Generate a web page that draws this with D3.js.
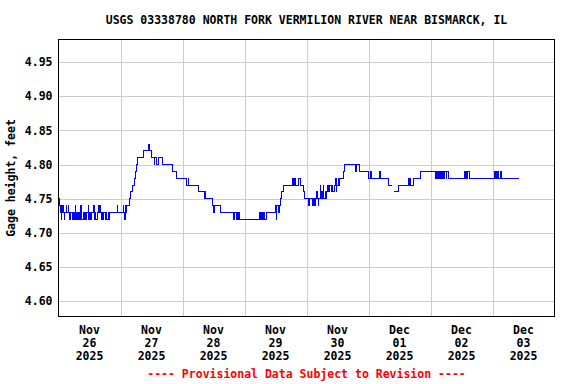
<!DOCTYPE html>
<html>
<head>
<meta charset="utf-8">
<script src="https://cdn.jsdelivr.net/npm/d3@7"></script>
<style>
  body { margin: 0; background: #fff; }
  text { font-family: "DejaVu Sans Mono", monospace; font-weight: bold; font-size: 11.5px; fill: #000; }
</style>
</head>
<body>
<svg id="chart" width="576" height="384"></svg>
<script>
const chartTitle = "USGS 03338780 NORTH FORK VERMILION RIVER NEAR BISMARCK, IL";
const yLabel = "Gage height, feet";
const footNote = "---- Provisional Data Subject to Revision ----";

// day labels under the axis (one per day, centred at noon)
const dayMonths = ["Nov", "Nov", "Nov", "Nov", "Nov", "Dec", "Dec", "Dec"];
const dayNumbers = ["26", "27", "28", "29", "30", "01", "02", "03"];
const dayYears = ["2025", "2025", "2025", "2025", "2025", "2025", "2025", "2025"];
const yTicks = [4.60, 4.65, 4.70, 4.75, 4.80, 4.85, 4.90, 4.95];

// [hours since 2025-11-26 00:00, gage height ft] at each change of value; null = no data
const readings = [
    [0, 4.75], [0.25, 4.74], [0.75, 4.73], [1, 4.72], [1.25, 4.74], [1.5, 4.73], [1.75, 4.74], [2, 4.73],
    [2.25, 4.72], [2.5, 4.73], [3, 4.74], [3.25, 4.73], [3.75, 4.74], [4, 4.73], [4.25, 4.72], [4.5, 4.73],
    [5.5, 4.72], [5.75, 4.73], [6.25, 4.72], [6.5, 4.74], [6.75, 4.73], [7, 4.72], [7.25, 4.73], [7.75, 4.72],
    [8, 4.73], [8.25, 4.72], [8.5, 4.74], [8.75, 4.73], [9, 4.72], [9.5, 4.73], [9.75, 4.72], [10.25, 4.73],
    [10.5, 4.72], [11, 4.73], [11.5, 4.74], [11.75, 4.72], [12, 4.73], [12.25, 4.72], [12.75, 4.73], [13.5, 4.74],
    [13.75, 4.73], [14, 4.72], [14.25, 4.73], [14.5, 4.72], [15, 4.73], [15.5, 4.74], [15.75, 4.73], [16, 4.74],
    [16.25, 4.73], [16.5, 4.72], [16.75, 4.73], [17, 4.72], [17.5, 4.73], [18.25, 4.72], [18.5, 4.73], [18.75, 4.72],
    [19.25, 4.73], [19.5, 4.72], [19.75, 4.73], [22.75, 4.74], [23, 4.73],
    // Nov 27
    [25, 4.74], [25.25, 4.73], [25.5, 4.72], [25.75, 4.73], [26, 4.74], [26.25, 4.73], [26.5, 4.74], [27.5, 4.75],
    [28, 4.76], [28.75, 4.77], [29.25, 4.78], [29.75, 4.79], [30.25, 4.80], [30.75, 4.81], [33, 4.82], [34.75, 4.83],
    [35.25, 4.82], [36, 4.81], [37, 4.80], [37.25, 4.81], [37.75, 4.80], [38.75, 4.81], [40.25, 4.80], [44, 4.79],
    [45.75, 4.78],
    // Nov 28
    [49.5, 4.77], [50.25, 4.78], [50.5, 4.77], [54.25, 4.76], [56.5, 4.75], [56.75, 4.76], [57, 4.75], [59.75, 4.74],
    [60, 4.73], [60.5, 4.74], [62.75, 4.73], [67.75, 4.72], [68, 4.73], [68.75, 4.72], [69.25, 4.73], [69.5, 4.72],
    [69.75, 4.73], [70, 4.72],
    // Nov 29
    [77.75, 4.73], [78.25, 4.72], [78.75, 4.73], [79, 4.72], [79.5, 4.73], [79.75, 4.72], [80.5, 4.73], [84, 4.74],
    [84.25, 4.72], [84.5, 4.74], [85.25, 4.73], [85.5, 4.74], [86, 4.75], [86.5, 4.76], [87.25, 4.77], [90.75, 4.78],
    [91, 4.77], [91.5, 4.78], [91.75, 4.77], [93, 4.78], [93.5, 4.77], [94.75, 4.76], [95.25, 4.75],
    // Nov 30
    [96.75, 4.74], [97, 4.75], [98.25, 4.74], [98.75, 4.75], [99.25, 4.74], [99.5, 4.75], [100, 4.76], [100.25, 4.75],
    [100.5, 4.74], [100.75, 4.75], [101.25, 4.77], [101.5, 4.76], [101.75, 4.75], [102.25, 4.76], [102.5, 4.77], [102.75, 4.75],
    [103.25, 4.76], [103.5, 4.75], [103.75, 4.76], [104.25, 4.77], [104.5, 4.76], [105, 4.77], [105.5, 4.76], [106, 4.77],
    [106.25, 4.76], [106.75, 4.77], [107.25, 4.78], [107.5, 4.76], [107.75, 4.77], [108.25, 4.78], [108.5, 4.77], [108.75, 4.78],
    [110.25, 4.79], [110.75, 4.80], [115, 4.79], [115.5, 4.80], [116.5, 4.79],
    // Dec 01
    [120, 4.78], [120.75, 4.79], [121.25, 4.78], [124.25, 4.79], [124.75, 4.78], [127.75, 4.77], [129, 4.77], [129.25, null],
    [130, 4.76], [131.5, 4.77], [135.5, 4.78], [135.75, 4.77], [136, 4.78], [136.25, 4.77], [137.25, 4.78], [140, 4.79],
    // Dec 02
    [146, 4.78], [146.25, 4.79], [146.75, 4.78], [147, 4.79], [147.5, 4.78], [147.75, 4.79], [148.25, 4.78], [148.5, 4.79],
    [149, 4.78], [149.5, 4.79], [150, 4.78], [150.25, 4.79], [151, 4.78], [157, 4.79], [157.5, 4.78], [157.75, 4.79],
    [158.25, 4.78], [158.5, 4.79], [159.25, 4.78], [168.75, 4.79], [169, 4.78], [169.5, 4.79], [169.75, 4.78], [170.25, 4.79],
    [170.5, 4.78], [171.25, 4.79], [171.5, 4.78], [178.25, 4.78]
];

const startTime = Date.UTC(2025, 10, 26);
const endTime = Date.UTC(2025, 11, 4);
const hour = 3600 * 1000;

// plot box
const plotLeft = 58.5, plotRight = 554.5, plotTop = 39.5, plotBottom = 316.5;

let svg = d3.select("#chart");

let x = d3.scaleUtc().domain([startTime, endTime]).range([plotLeft, plotRight]);
let y = d3.scaleLinear().domain([4.5775, 4.983]).range([plotBottom, plotTop]);

// horizontal grid + tick labels
let yAxis = d3.axisLeft(y)
    .tickValues(yTicks)
    .tickSize(-(plotRight - plotLeft))
    .tickPadding(6)
    .tickFormat(d3.format(".2f"));

let yg = svg.append("g")
    .attr("transform", `translate(${plotLeft},0)`)
    .call(yAxis);
yg.select(".domain").remove();
yg.selectAll("line").attr("stroke", "#cccccc").attr("shape-rendering", "crispEdges");
yg.attr("font-family", null).attr("font-size", null);
yg.selectAll("text").attr("fill", "#000");

// vertical grid at each midnight
let midnights = d3.utcDay.range(startTime + hour, endTime);
let xAxis = d3.axisBottom(x)
    .tickValues(midnights)
    .tickSize(-(plotBottom - plotTop))
    .tickFormat("");

let xg = svg.append("g")
    .attr("transform", `translate(0,${plotBottom})`)
    .call(xAxis);
xg.select(".domain").remove();
xg.selectAll("line").attr("stroke", "#cccccc").attr("shape-rendering", "crispEdges");

// the gage height trace
let line = d3.line()
    .defined(d => d[1] !== null)
    .x(d => x(startTime + d[0] * hour))
    .y(d => y(d[1]))
    .curve(d3.curveStepAfter);

svg.append("path")
    .datum(readings)
    .attr("d", line)
    .attr("fill", "none")
    .attr("stroke", "#0000ff")
    .attr("stroke-width", 1)
    .attr("shape-rendering", "crispEdges");

// frame
svg.append("rect")
    .attr("x", plotLeft).attr("y", plotTop)
    .attr("width", plotRight - plotLeft).attr("height", plotBottom - plotTop)
    .attr("fill", "none").attr("stroke", "#000")
    .attr("shape-rendering", "crispEdges");

// day labels, three rows each
let days = d3.utcDay.range(startTime, endTime);
let labels = svg.append("g").attr("text-anchor", "middle");
days.forEach((d, i) => {
    let cx = x(d.getTime() + 12 * hour);
    let t = labels.append("text").attr("x", cx);
    t.append("tspan").attr("x", cx).attr("y", 334).text(dayMonths[i]);
    t.append("tspan").attr("x", cx).attr("y", 347).text(dayNumbers[i]);
    t.append("tspan").attr("x", cx).attr("y", 360).text(dayYears[i]);
});

// title, axis label, footer
let midX = (plotLeft + plotRight) / 2;

svg.append("text")
    .attr("x", midX).attr("y", 24)
    .attr("text-anchor", "middle")
    .text(chartTitle);

svg.append("text")
    .attr("transform", `translate(15,${(plotTop + plotBottom) / 2}) rotate(-90)`)
    .attr("text-anchor", "middle")
    .text(yLabel);

svg.append("text")
    .attr("x", midX).attr("y", 378)
    .attr("text-anchor", "middle")
    .style("fill", "#ff0000")
    .text(footNote);
</script>
</body>
</html>
